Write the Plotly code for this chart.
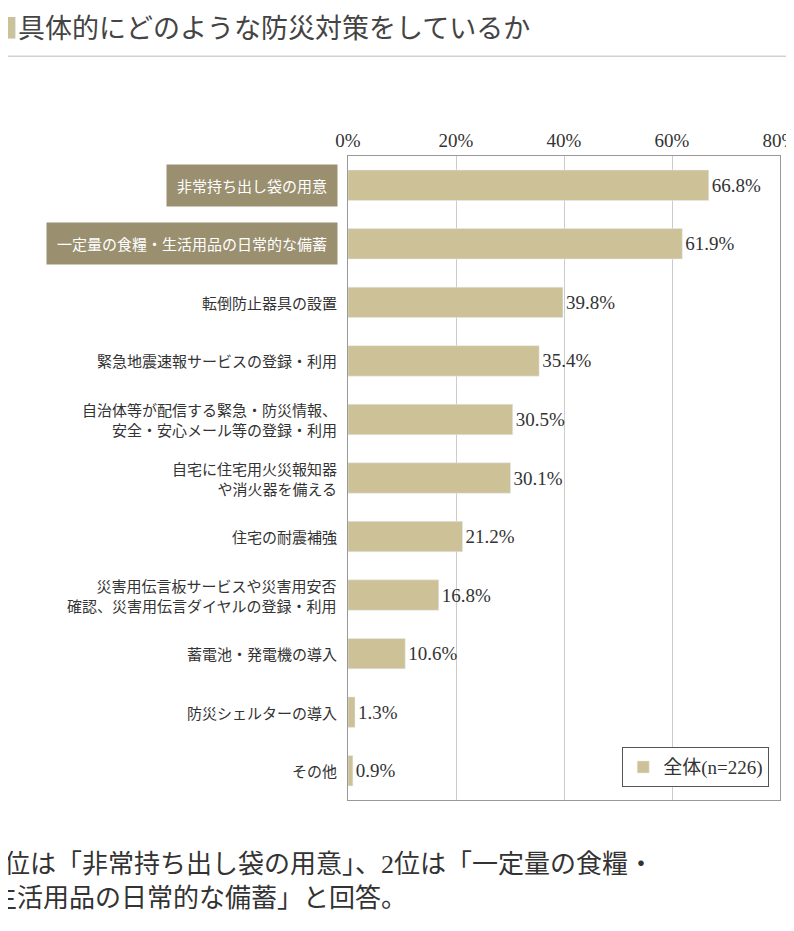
import plotly.graph_objects as go

categories = ["非常持ち出し袋の用意", "一定量の食糧・生活用品の日常的な備蓄", "転倒防止器具の設置",
              "緊急地震速報サービスの登録・利用", "自治体等が配信する緊急・防災情報、<br>安全・安心メール等の登録・利用",
              "自宅に住宅用火災報知器<br>や消火器を備える", "住宅の耐震補強",
              "災害用伝言板サービスや災害用安否<br>確認、災害用伝言ダイヤルの登録・利用",
              "蓄電池・発電機の導入", "防災シェルターの導入", "その他"]
values = [66.8, 61.9, 39.8, 35.4, 30.5, 30.1, 21.2, 16.8, 10.6, 1.3, 0.9]
highlight = [True, True] + [False] * 9
tick_vals = [0, 20, 40, 60, 80]
tick_text = ["0%", "20%", "40%", "60%", "80%"]

BAR = "#cdc197"
BOX = "#9a9070"
FONT = "Liberation Serif, Noto Sans CJK JP"

fig = go.Figure()
fig.add_trace(go.Bar(x=values, y=list(range(len(values))), orientation="h",
                     marker_color=BAR, width=0.52, name="全体(n=226)",
                     text=[f"{v}%" for v in values], textposition="outside",
                     textfont=dict(size=19, color="#333", family=FONT), cliponaxis=False,
                     showlegend=True))

anns = []
for i, (c, h) in enumerate(zip(categories, highlight)):
    anns.append(dict(x=0, y=i, xref="x", yref="y", text=c, xanchor="right", xshift=-10,
                     showarrow=False, align="right",
                     font=dict(size=15, color="white" if h else "#333", family="Noto Sans CJK JP"),
                     bgcolor=BOX if h else "rgba(0,0,0,0)", borderpad=10 if h else 0))

anns.append(dict(x=-0.83, y=1.168, xref="paper", yref="paper", xanchor="left", yanchor="bottom",
                 text="<span style='color:#cdc197'>■</span>具体的にどのような防災対策をしているか",
                 showarrow=False, font=dict(size=27, color="#444", family="Noto Sans CJK JP")))
anns.append(dict(x=-0.83, y=-0.075, xref="paper", yref="paper", xanchor="left", yanchor="top",
                 showarrow=False, align="left",
                 text="1位は「非常持ち出し袋の用意」、2位は「一定量の食糧・<br>生活用品の日常的な備蓄」と回答。",
                 font=dict(size=26, color="#333", family=FONT)))

fig.update_layout(
    width=794, height=931, plot_bgcolor="white", paper_bgcolor="white",
    margin=dict(l=340, r=22, t=148, b=139, autoexpand=False),
    bargap=0.48,
    font=dict(family=FONT, color="#333"),
    xaxis=dict(range=[0, 80], tickvals=tick_vals, ticktext=tick_text, side="top",
               showgrid=True, gridcolor="#cccccc", gridwidth=1, showline=True, linecolor="#999",
               mirror=True, tickfont=dict(size=19, family=FONT, color="#333"), zeroline=False,
               ticks="", automargin=False),
    yaxis=dict(range=[10.5, -0.5], showticklabels=False, showline=True, linecolor="#999",
               mirror=True, showgrid=False, zeroline=False, fixedrange=True, automargin=False),
    legend=dict(x=0.975, y=0.02, xanchor="right", yanchor="bottom", bordercolor="#555",
                borderwidth=1, bgcolor="white", font=dict(size=19, family=FONT, color="#333")),
    annotations=anns,
    shapes=[dict(type="line", xref="paper", yref="paper", x0=-0.83, x1=1.05, y0=1.155, y1=1.155,
                 line=dict(color="#bbbbbb", width=1))],
)
fig.write_html("out.html")
